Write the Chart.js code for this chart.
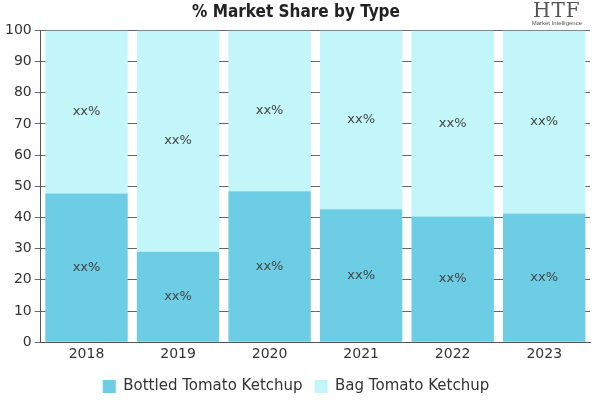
<!DOCTYPE html>
<html>
<head>
<meta charset="utf-8">
<script src="https://cdn.jsdelivr.net/npm/chart.js@4/dist/chart.umd.min.js"></script>
<style>
  html, body { margin: 0; padding: 0; background: #fff; }
  #wrap { position: relative; width: 600px; height: 400px; }
  #logo { position: absolute; right: 18px; top: 0px; font-family: "DejaVu Serif", serif; color: #555; text-align: center; line-height: 1; }
  #logo .big { font-size: 20px; letter-spacing: 1px; }
  #logo .small { font-size: 6px; font-family: "Liberation Sans", sans-serif; }
</style>
</head>
<body>
<div id="wrap">
  <canvas id="c" width="600" height="400"></canvas>
  <div id="logo"><div class="big">HTF</div><div class="small">Market Intelligence</div></div>
</div>
<script>
const years = ['2018', '2019', '2020', '2021', '2022', '2023'];
const bottled = [47.7, 29, 48.4, 42.6, 40.3, 41.3];
const bag = bottled.map(v => +(100 - v).toFixed(1));
const segLabel = 'xx%';

// writes the placeholder label in the middle of each stacked segment
const midLabels = {
    id: 'midLabels',
    afterDatasetsDraw(chart) {
        const ctx = chart.ctx;
        ctx.save();
        ctx.font = '13px "DejaVu Sans", sans-serif';
        ctx.fillStyle = '#444';
        ctx.textAlign = 'center';
        ctx.textBaseline = 'middle';
        chart.data.datasets.forEach((ds, i) => {
            chart.getDatasetMeta(i).data.forEach(bar => {
                ctx.fillText(segLabel, bar.x, (bar.y + bar.base) / 2);
            });
        });
        ctx.restore();
    }
};

new Chart(document.getElementById('c'), {
    type: 'bar',
    data: {
        labels: years,
        datasets: [
            { label: 'Bottled Tomato Ketchup', data: bottled, backgroundColor: '#6ccde5' },
            { label: 'Bag Tomato Ketchup', data: bag, backgroundColor: '#c3f6f8' }
        ]
    },
    options: {
        animation: false,
        responsive: false,
        layout: { padding: { left: 2, right: 10, top: 0, bottom: -4 } },
        datasets: { bar: { barPercentage: 0.9, categoryPercentage: 1.0 } },
        scales: {
            x: {
                stacked: true,
                grid: { display: false, drawTicks: false },
                border: { color: '#555' },
                ticks: { color: '#333', font: { size: 14, family: '"DejaVu Sans", sans-serif' }, padding: 4 }
            },
            y: {
                stacked: true,
                min: 0,
                max: 100,
                ticks: { stepSize: 10, color: '#333', font: { size: 14, family: '"DejaVu Sans", sans-serif' }, padding: 3 },
                grid: { color: '#666', tickLength: 6 },
                border: { color: '#555' }
            }
        },
        plugins: {
            title: {
                display: true,
                text: '% Market Share by Type',
                color: '#222',
                font: { size: 17, weight: 'bold', family: '"DejaVu Sans Condensed", "DejaVu Sans", sans-serif' },
                padding: { top: 2, bottom: 8 }
            },
            legend: {
                position: 'bottom',
                labels: { color: '#333', font: { size: 15, family: '"DejaVu Sans", sans-serif' }, boxWidth: 13, boxHeight: 13, padding: 12 }
            },
            tooltip: { enabled: false }
        }
    },
    plugins: [midLabels]
});
</script>
</body>
</html>
